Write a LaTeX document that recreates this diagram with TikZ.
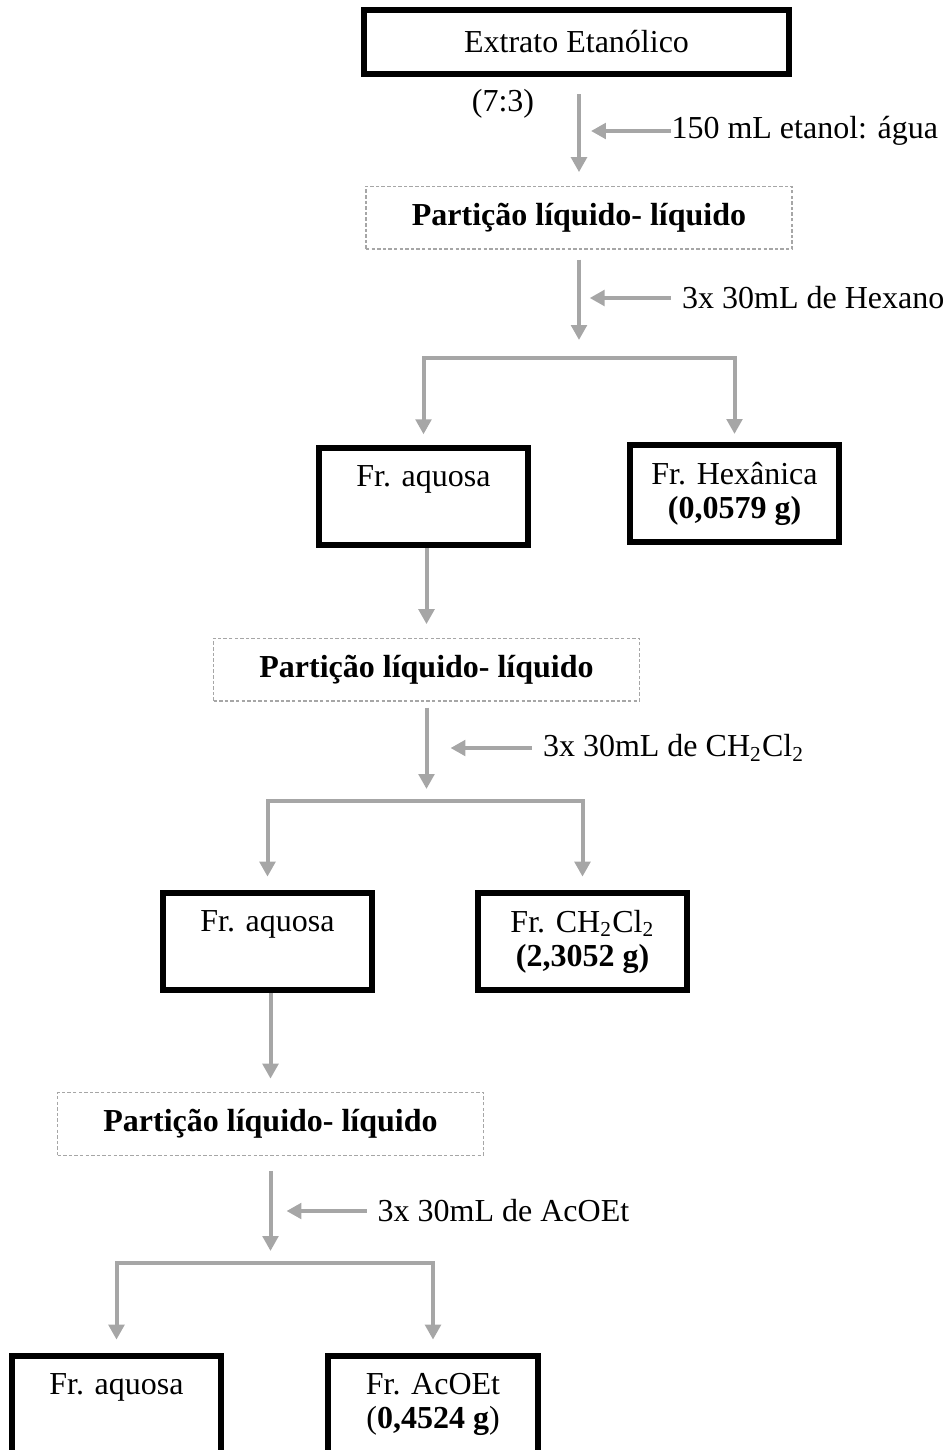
\documentclass[tikz,border=0pt]{standalone}
\usepackage{fontspec}
\setmainfont{Liberation Serif}
\usepackage{xcolor}
\usepackage{tikz}
\usetikzlibrary{arrows.meta,positioning}
\definecolor{linegray}{HTML}{A6A6A6}

\begin{document}
\begin{tikzpicture}[
  x=0.375pt, y=-0.375pt,
  font=\fontsize{12}{12.75}\selectfont,
  start/.style={draw, line width=2.25pt, minimum width=159.4pt, minimum height=24pt, inner sep=0pt, align=center},
  frac/.style={draw, line width=2.25pt, minimum width=78.4pt, minimum height=36.4pt, inner sep=0pt, align=center},
  part/.style={draw=linegray, dash pattern=on 1.3pt off 0.8pt, line width=0.4pt, minimum width=159.75pt, minimum height=23.6pt, inner sep=0pt, font=\fontsize{12}{12.75}\selectfont\bfseries},
  note/.style={inner xsep=4pt, inner ysep=0pt},
  arr/.style={-{Triangle[length=5.6pt, width=5.8pt]}, line width=1.5pt, linegray, shorten >=5pt}
]
  \useasboundingbox (0,0) rectangle (947,1450);

  \node[start] (ext) at (576.5,42) {Extrato Etanólico};
  \node (ratio) at (503,104) {(7:3)};
  \node[part] (p1) at (579,217.5) {Partição líquido- líquido};
  \coordinate (t1) at (579,131);
  \node[note, inner xsep=0pt, right=34.5pt of t1] (l1) {150 mL etanol: água};

  \coordinate (t2) at (579,298);
  \node[note, right=34.5pt of t2] (l2) {3x 30mL de Hexano};
  \coordinate (s1) at (579,358);
  \node[frac] (aq1) at (423.5,496.5) {Fr. aquosa\\\phantom{(0,0579 g)}};
  \node[frac] (hex) at (734.5,493.5) {Fr. Hexânica\\\textbf{(0,0579 g)}};

  \node[part] (p2) at (426.5,669.5) {Partição líquido- líquido};
  \coordinate (t3) at (426.5,748);
  \node[note, right=39.5pt of t3] (l3) {3x 30mL de CH\textsubscript{2}Cl\textsubscript{2}};
  \coordinate (s2) at (426.5,801);
  \node[frac] (aq2) at (267.5,941.5) {Fr. aquosa\\\phantom{(2,3052 g)}};
  \node[frac] (ch) at (582.5,941.5) {Fr. CH\textsubscript{2}Cl\textsubscript{2}\\\textbf{(2,3052 g)}};

  \node[part] (p3) at (270.5,1124) {Partição líquido- líquido};
  \coordinate (t4) at (270.5,1211);
  \node[note, right=36pt of t4] (l4) {3x 30mL de AcOEt};
  \coordinate (s3) at (270.5,1263);
  \node[frac] (aq3) at (116.5,1404.5) {Fr. aquosa\\\phantom{(0,4524 g)}};
  \node[frac] (ac) at (433,1404.5) {Fr. AcOEt\\(\textbf{0,4524 g})};

  \draw[arr, shorten <=6.4pt] (ext.south -| p1.north) -- (p1.north);
  \draw[arr, shorten >=4.5pt] (l1.west) -- (t1);
  \draw[arr, shorten <=3.75pt, shorten >=6.75pt] (p1.south) -- (s1);
  \draw[arr, shorten >=4pt] (l2.west) -- (t2);
  \draw[arr, shorten >=4pt] (s1) -| (aq1.north);
  \draw[arr, shorten >=3pt] (s1) -| (hex.north);

  \draw[arr] (aq1.south -| p2.north) -- (p2.north);
  \draw[arr, shorten <=2.25pt, shorten >=4.5pt] (p2.south) -- (s2);
  \draw[arr, shorten >=9pt] (l3.west) -- (t3);
  \draw[arr] (s2) -| (aq2.north);
  \draw[arr] (s2) -| (ch.north);

  \draw[arr] (aq2.south -| p3.north) -- (p3.north);
  \draw[arr, shorten <=5.6pt, shorten >=4.5pt] (p3.south) -- (s3);
  \draw[arr, shorten >=6pt] (l4.west) -- (t4);
  \draw[arr] (s3) -| (aq3.north);
  \draw[arr] (s3) -| (ac.north);
\end{tikzpicture}
\end{document}
